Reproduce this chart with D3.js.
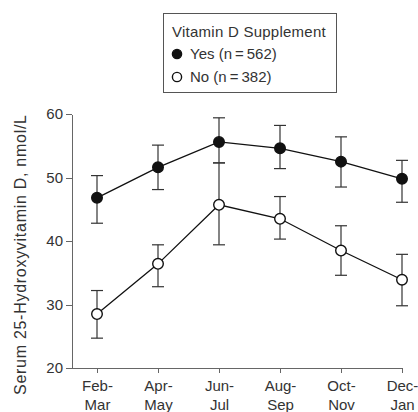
<!DOCTYPE html>
<html>
<head>
<meta charset="utf-8">
<script src="https://cdn.jsdelivr.net/npm/d3@7"></script>
<style>
  body { margin: 0; background: #fff; }
  svg { display: block; font-family: "Liberation Sans", Arial, sans-serif; }
  .axis path, .axis line { stroke: #666; shape-rendering: crispEdges; }
  .axis text { fill: #333; font-size: 15px; }
</style>
</head>
<body>
<div id="chart"></div>
<script>
const periods = [['Feb-', 'Mar'], ['Apr-', 'May'], ['Jun-', 'Jul'], ['Aug-', 'Sep'], ['Oct-', 'Nov'], ['Dec-', 'Jan']];
const yesMean = [46.8, 51.6, 55.6, 54.6, 52.5, 49.8];
const yesLow = [42.8, 48.1, 52.3, 51.4, 48.5, 46.1];
const yesHigh = [50.3, 55.1, 59.4, 58.2, 56.4, 52.7];
const noMean = [28.5, 36.4, 45.7, 43.5, 38.5, 33.9];
const noLow = [24.7, 32.8, 39.4, 40.3, 34.6, 29.8];
const noHigh = [32.2, 39.4, 52.3, 47.0, 42.4, 37.9];
const yTicks = [20, 30, 40, 50, 60];
const legendTitle = 'Vitamin D Supplement';
const legendLabels = ['Yes (n\u2009=\u2009562)', 'No (n\u2009=\u2009382)'];

const width = 418, height = 412;
const margin = { top: 114, left: 72, bottom: 44 };

const svg = d3.select('#chart').append('svg')
  .attr('width', width)
  .attr('height', height);

const x = d3.scalePoint()
  .domain(d3.range(periods.length))
  .range([97, 402]);

const y = d3.scaleLinear()
  .domain([20, 60])
  .range([height - margin.bottom, margin.top]);

// x axis
const xAxis = svg.append('g')
  .attr('class', 'axis')
  .attr('transform', `translate(0,${y(20)})`)
  .call(d3.axisBottom(x).tickSize(5).tickSizeOuter(0).tickFormat(''));
xAxis.select('.domain').attr('d', `M${margin.left},0H${x(periods.length - 1)}`);
xAxis.selectAll('.tick').each(function (d) {
  const t = d3.select(this).append('text')
    .attr('text-anchor', 'middle');
  t.append('tspan').attr('x', 0).attr('y', 23).text(periods[d][0]);
  t.append('tspan').attr('x', 0).attr('y', 42).text(periods[d][1]);
});

// y axis
svg.append('g')
  .attr('class', 'axis')
  .attr('transform', `translate(${margin.left},0)`)
  .call(d3.axisLeft(y).tickValues(yTicks).tickSize(6).tickSizeOuter(0).tickPadding(3));

svg.append('text')
  .attr('transform', `translate(26,255) rotate(-90)`)
  .attr('text-anchor', 'middle')
  .attr('font-size', 16)
  .attr('fill', '#333')
  .attr('textLength', 280)
  .attr('lengthAdjust', 'spacing')
  .text('Serum 25-Hydroxyvitamin D, nmol/L');

const series = [
  { mean: yesMean, low: yesLow, high: yesHigh, fill: '#111' },
  { mean: noMean, low: noLow, high: noHigh, fill: '#fff' }
];

const line = d3.line()
  .x((d, i) => x(i))
  .y(d => y(d));

series.forEach(s => {
  const g = svg.append('g');
  // error bars
  const eb = g.selectAll('.eb')
    .data(s.mean)
    .join('g')
    .attr('stroke', '#333')
    .attr('stroke-width', 1.2);
  eb.append('line')
    .attr('x1', (d, i) => x(i)).attr('x2', (d, i) => x(i))
    .attr('y1', (d, i) => y(s.low[i])).attr('y2', (d, i) => y(s.high[i]));
  eb.append('line')
    .attr('x1', (d, i) => x(i) - 6).attr('x2', (d, i) => x(i) + 6)
    .attr('y1', (d, i) => y(s.high[i])).attr('y2', (d, i) => y(s.high[i]));
  eb.append('line')
    .attr('x1', (d, i) => x(i) - 6).attr('x2', (d, i) => x(i) + 6)
    .attr('y1', (d, i) => y(s.low[i])).attr('y2', (d, i) => y(s.low[i]));
  s.g = g;
});

series.forEach(s => {
  s.g.append('path')
    .datum(s.mean)
    .attr('fill', 'none')
    .attr('stroke', '#111')
    .attr('stroke-width', 1.3)
    .attr('d', line);
  s.g.selectAll('circle')
    .data(s.mean)
    .join('circle')
    .attr('cx', (d, i) => x(i))
    .attr('cy', d => y(d))
    .attr('r', 5.3)
    .attr('fill', s.fill)
    .attr('stroke', '#111')
    .attr('stroke-width', 1.4);
});

// legend
const lg = svg.append('g');
lg.append('rect')
  .attr('x', 163.5).attr('y', 13.5)
  .attr('width', 173).attr('height', 79)
  .attr('fill', '#fff')
  .attr('stroke', '#555')
  .attr('stroke-width', 1);
lg.append('text')
  .attr('x', 172).attr('y', 37)
  .attr('font-size', 15).attr('fill', '#333')
  .attr('letter-spacing', 0.25)
  .text(legendTitle);
legendLabels.forEach((lab, i) => {
  const cy = 54 + i * 23;
  lg.append('circle')
    .attr('cx', 177).attr('cy', cy).attr('r', 4.6)
    .attr('fill', series[i].fill)
    .attr('stroke', '#111').attr('stroke-width', 1.4);
  lg.append('text')
    .attr('x', 190).attr('y', cy + 5)
    .attr('font-size', 15).attr('fill', '#333')
    .text(lab);
});
</script>
</body>
</html>
